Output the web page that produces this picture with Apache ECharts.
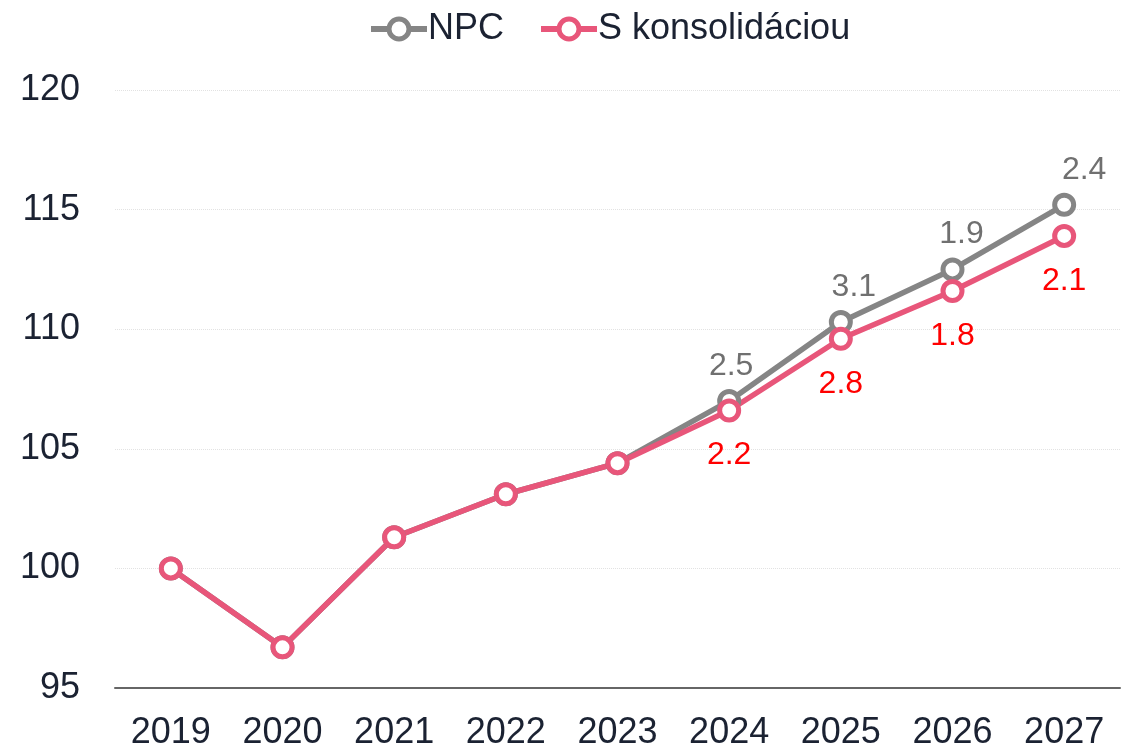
<!DOCTYPE html>
<html>
<head>
<meta charset="utf-8">
<script src="https://cdn.jsdelivr.net/npm/echarts@6/dist/echarts.min.js"></script>
<style>
    html,body{margin:0;padding:0;background:#fff;}
    #chart{width:1126px;height:751px;}
</style>
</head>
<body>
<div id="chart"></div>
<script>
    // data
    const years = ['2019','2020','2021','2022','2023','2024','2025','2026','2027']
    const npc = [100, 96.7, 101.3, 103.1, 104.4, 107.0, 110.3, 112.5, 115.2]
    const kons = [100, 96.7, 101.3, 103.1, 104.4, 106.6, 109.6, 111.6, 113.9]
    const npcGrowth = [null, null, null, null, null, 2.5, 3.1, 1.9, 2.4]
    const konsGrowth = [null, null, null, null, null, 2.2, 2.8, 1.8, 2.1]
    // horizontal nudge of the gray labels (px), as placed in the original
    const npcLabelShift = [0, 0, 0, 0, 0, 2, 13, 9, 20]

    const txt = '#1b2232'
    const font = 'Liberation Sans'
    const gray = '#858585'
    const pink = '#e8567a'

    const chart = echarts.init(document.getElementById('chart'))
    chart.setOption({
        animation:false,
        textStyle:{fontFamily:font},
        legend:{
            top:6,
            left:363,
            itemWidth:56,
            itemHeight:25,
            itemGap:34,
            lineStyle:{width:6},
            itemStyle:{borderWidth:5},
            textStyle:{fontSize:36,color:txt,fontFamily:font,padding:[0,0,0,-4]},
            data:['NPC','S konsolidáciou']
        },
        grid:{left:115,right:6,top:90,bottom:63},
        xAxis:{
            type:'category',
            data:years,
            axisLine:{lineStyle:{color:'#666',width:2}},
            axisTick:{show:false},
            axisLabel:{fontSize:36,color:txt,margin:27}
        },
        yAxis:{
            type:'value',
            min:95,
            max:120,
            interval:5,
            axisLine:{show:false},
            axisTick:{show:false},
            axisLabel:{fontSize:36,color:txt,margin:35},
            splitLine:{lineStyle:{color:'#e2e2e2',type:'dotted',width:1}}
        },
        series:[
            {
                name:'NPC',
                type:'line',
                data:npc.map((v, i) => ({value:v, label:{offset:[npcLabelShift[i], 0]}})),
                symbol:'circle',
                symbolSize:19,
                color:gray,
                lineStyle:{width:5.5,color:gray},
                itemStyle:{color:'#fff',borderColor:gray,borderWidth:5},
                label:{
                    show:true,
                    position:'top',
                    distance:7,
                    fontSize:32,
                    color:'#707070',
                    formatter:(p) => npcGrowth[p.dataIndex] == null ? '' : npcGrowth[p.dataIndex].toFixed(1)
                }
            },
            {
                name:'S konsolidáciou',
                type:'line',
                data:kons,
                symbol:'circle',
                symbolSize:19,
                color:pink,
                lineStyle:{width:5.5,color:pink},
                itemStyle:{color:'#fff',borderColor:pink,borderWidth:5},
                label:{
                    show:true,
                    position:'bottom',
                    distance:17,
                    fontSize:32,
                    color:'#ff0000',
                    formatter:(p) => konsGrowth[p.dataIndex] == null ? '' : konsGrowth[p.dataIndex].toFixed(1)
                }
            }
        ]
    })
</script>
</body>
</html>
